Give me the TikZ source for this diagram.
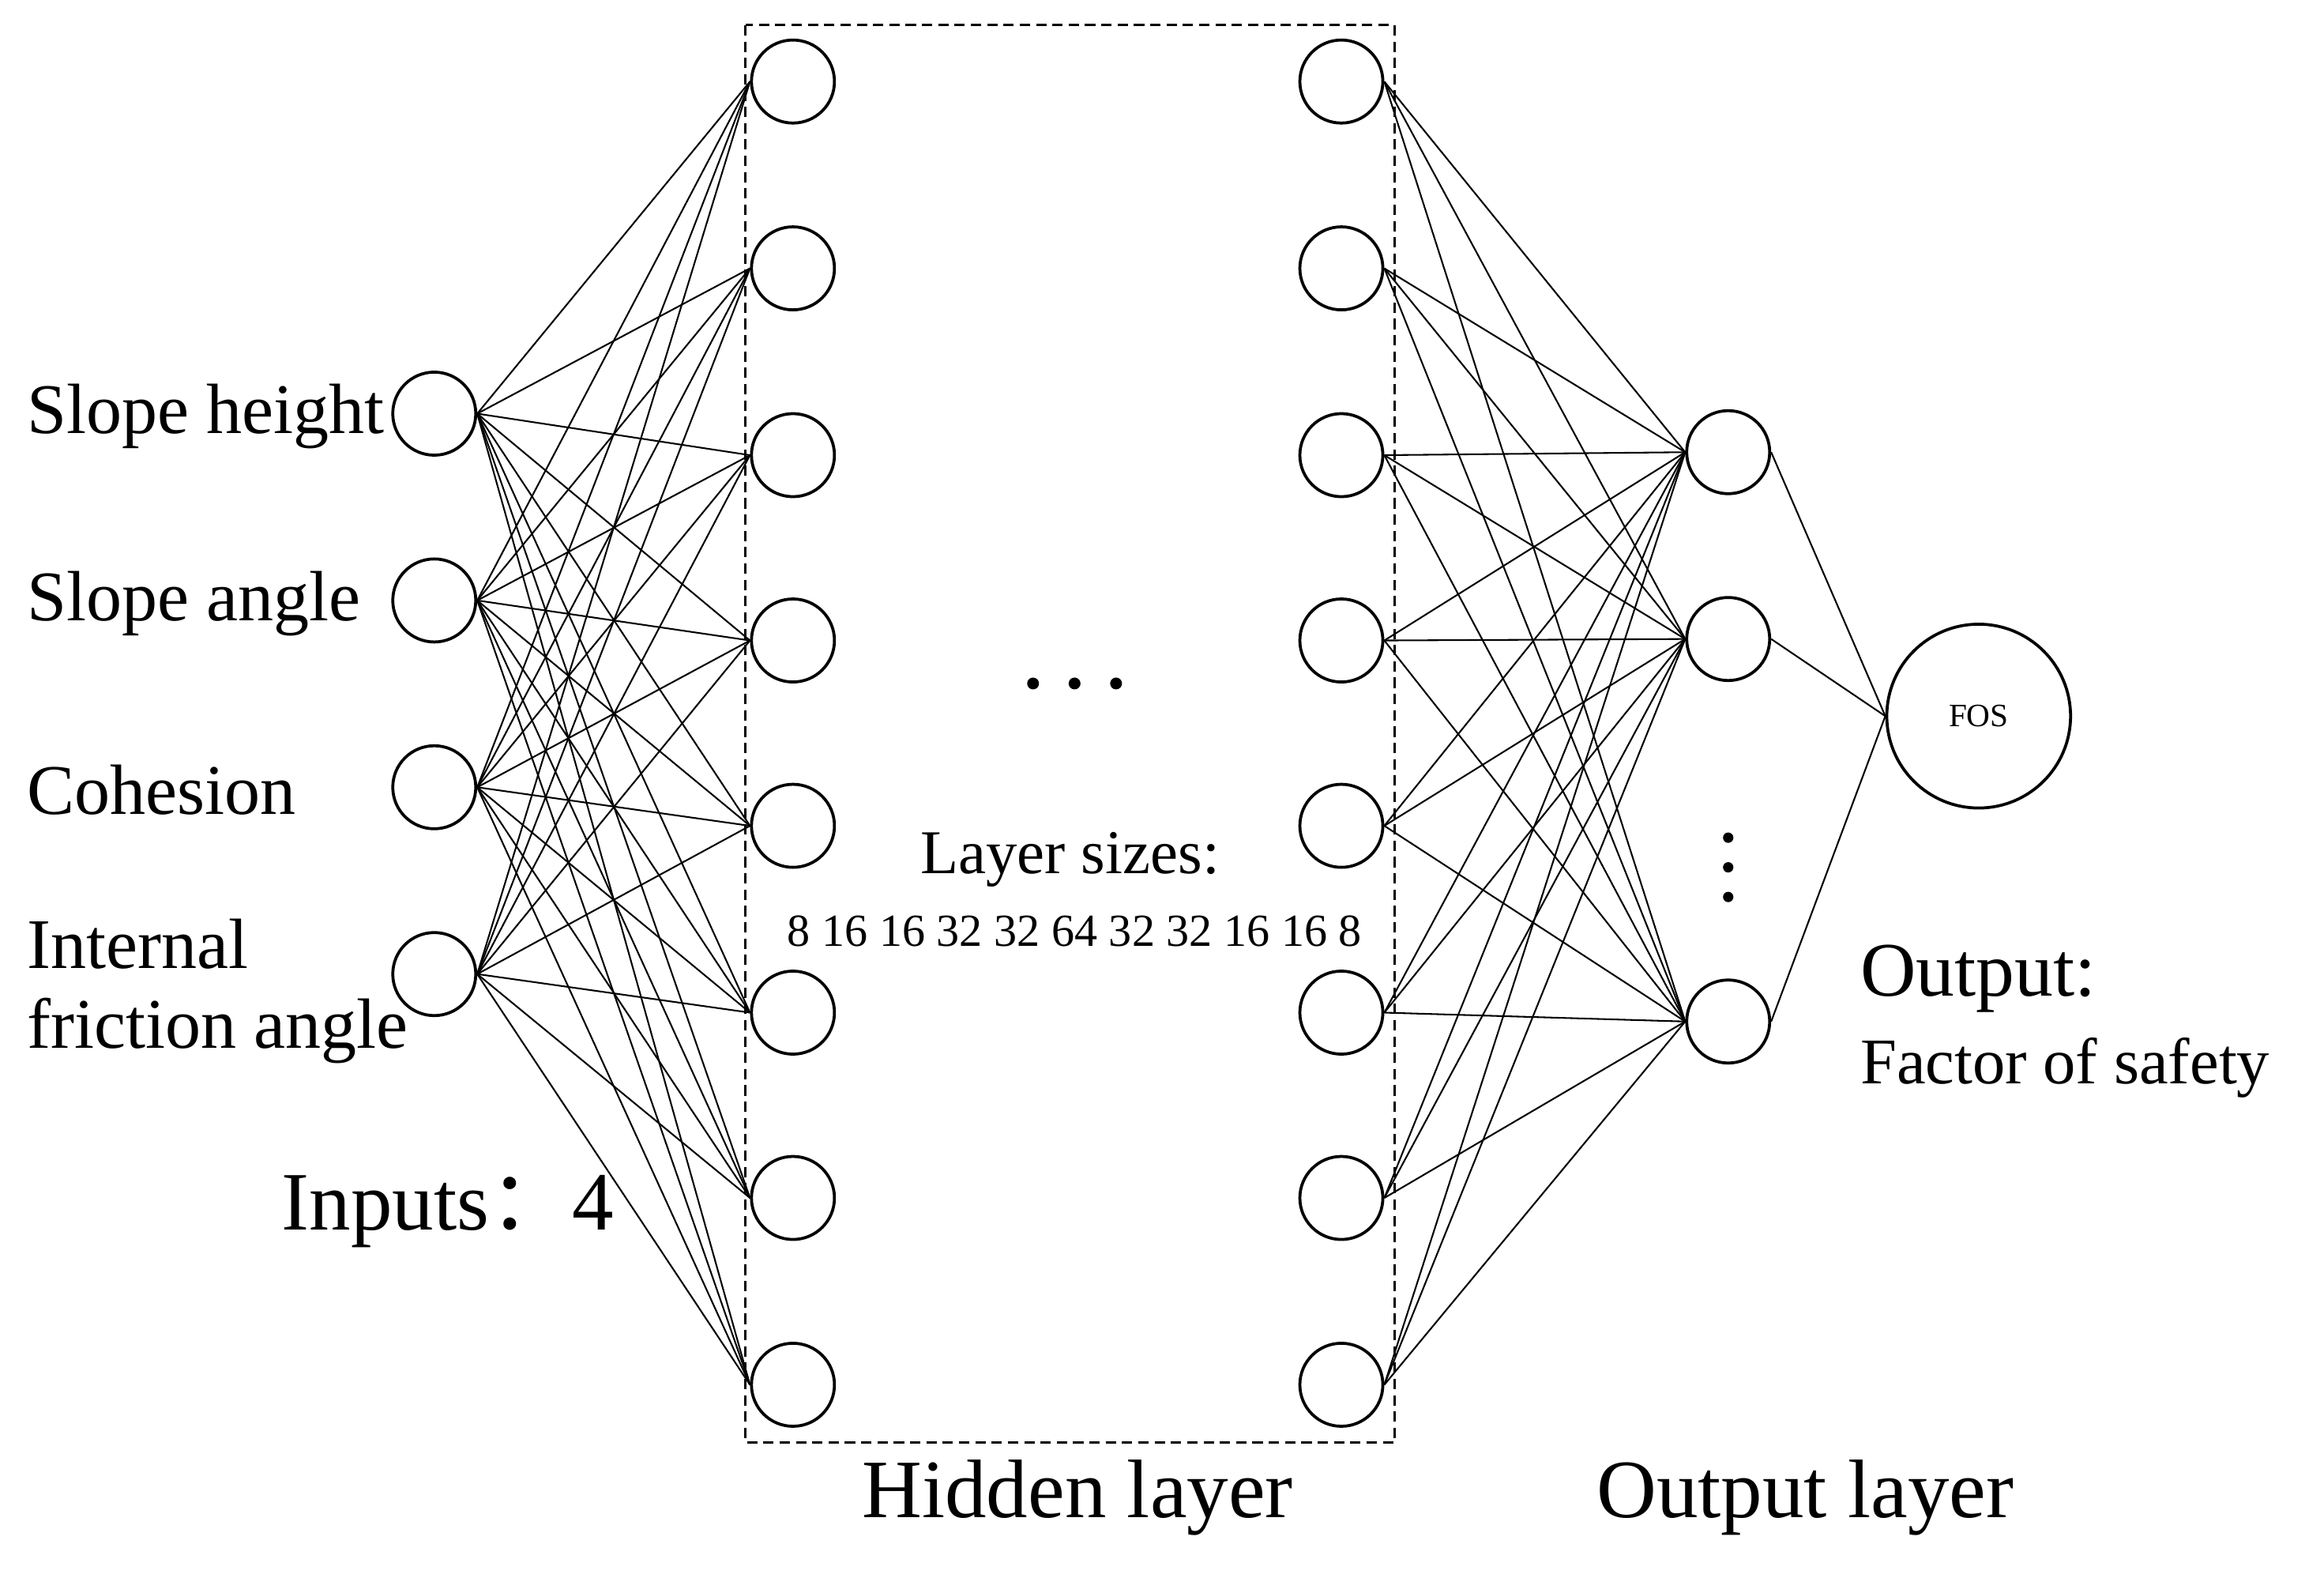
\documentclass[tikz,border=0pt]{standalone}
\usepackage{fontspec}
\setmainfont{Liberation Serif}
\newfontfamily\cjk{Noto Sans CJK SC}
\begin{document}
\begin{tikzpicture}[x=1pt,y=-1pt,
  neuron/.style={circle,draw,line width=2pt,minimum size=56pt,inner sep=0pt},
  conn/.style={line width=1.1pt},
  dot/.style={circle,fill,inner sep=0pt,minimum size=8pt},
  lab/.style={font=\fontsize{48}{54}\selectfont,anchor=west,inner sep=0pt}]
\useasboundingbox (0,0) rectangle (1568,1064);
\draw[line width=1.6pt,dash pattern=on 7pt off 4pt] (503,17) rectangle (941,973);
\foreach \i/\y in {1/279,2/405,3/531,4/657} \node[neuron] (in\i) at (293,\y) {};
\foreach \i/\y in {1/55,2/181,3/307,4/432,5/557,6/683,7/808,8/934} {
  \node[neuron] (hl\i) at (535,\y) {};
  \node[neuron] (hr\i) at (905,\y) {};}
\foreach \i/\y in {1/305,2/431,3/689} \node[neuron] (out\i) at (1166,\y) {};
\node[neuron,minimum size=124pt,font=\fontsize{22}{26}\selectfont] (fos) at (1335,483) {FOS};
\foreach \i in {1,...,4} \foreach \j in {1,...,8} \draw[conn] (in\i.east) -- (hl\j.west);
\foreach \i in {1,...,8} \foreach \j in {1,...,3} \draw[conn] (hr\i.east) -- (out\j.west);
\foreach \j in {1,...,3} \draw[conn] (out\j.east) -- (fos.west);
\node[lab] (t1) at (18,281) {Slope height};
\node[lab] (t2) at (18,407) {Slope angle};
\node[lab] (t3) at (18,533) {Cohesion};
\node[lab] (t4) at (18,637) {Internal};
\node[lab] (t5) at (18,695) {friction angle};
\node[lab,font=\fontsize{56}{60}\selectfont] (t6) at (190,817) {Inputs{\cjk ：}4};
\foreach \k/\x in {1/697,2/725,3/753} \node[dot] (hd\k) at (\x,461) {};
\foreach \k/\y in {1/565,2/585,3/605} \node[dot,minimum size=7pt] (vd\k) at (1166,\y) {};
\node[font=\fontsize{42}{48}\selectfont,inner sep=0pt] (ls) at (722,580) {Layer sizes:};
\node[font=\fontsize{31}{34}\selectfont,inner sep=0pt] (sz) at (725,628) {8 16 16 32 32 64 32 32 16 16 8};
\node[font=\fontsize{56}{60}\selectfont,inner sep=0pt] (hid) at (727,1010) {Hidden layer};
\node[font=\fontsize{56}{60}\selectfont,inner sep=0pt] (ol) at (1218,1010) {Output layer};
\node[lab,font=\fontsize{52}{56}\selectfont] (o1) at (1255,660) {Output:};
\node[lab,font=\fontsize{44}{48}\selectfont] (o2) at (1255,720) {Factor of safety};
\end{tikzpicture}
\end{document}
